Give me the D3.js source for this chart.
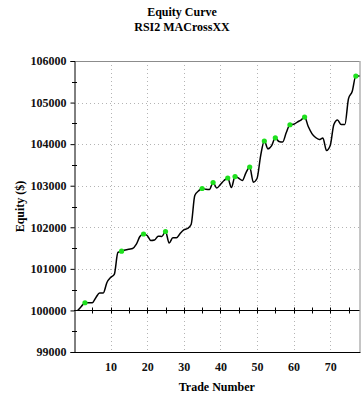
<!DOCTYPE html>
<html><head><meta charset="utf-8">
<script src="https://cdn.jsdelivr.net/npm/d3@7"></script>
<style>body{margin:0;background:#fff}svg{display:block}</style>
</head><body>
<svg id="c" width="364" height="400"></svg>
<script>
const titleLines = ["Equity Curve", "RSI2 MACrossXX"];
const xLabel = "Trade Number";
const yLabel = "Equity ($)";
const trades = d3.range(1, 79);
const equity = [
 100000,100096,100185,100185,100185,100312,100420,100420,100673,100793,
 100865,101394,101425,101454,101474,101490,101587,101779,101839,101803,
 101683,101695,101786,101779,101899,101623,101748,101748,101851,101935,
 101971,102067,102764,102873,102933,102916,102909,103077,102945,103029,
 103125,103185,102957,103221,103180,103125,103317,103450,103084,103173,
 103726,104075,103887,103966,104151,104063,104050,104279,104466,104476,
 104531,104579,104651,104423,104255,104159,104111,104147,103846,103966,
 104471,104579,104471,104471,105096,105264,105637,105637];
const markerTrades = [3,13,19,25,35,38,42,44,48,52,55,59,63,77];
const xTicks = [10,20,30,40,50,60,70];
const xMinorTicks = d3.range(5, 78, 5);
const yTicks = [99000,100000,101000,102000,103000,104000,105000,106000];
const yMinorTicks = d3.range(99500, 106000, 1000);

const data = trades.map((t,i)=>({t, v: equity[i]}));
const svg = d3.select("#c");
const L=74, R=359.5, T=61, B=352;
const x = d3.scaleLinear().domain([0,78]).range([L,R]);
const y = d3.scaleLinear().domain([99000,106000]).range([B,T]);
const font = "'Liberation Serif','Times New Roman',serif";

// titles
svg.selectAll("text.title").data(titleLines).join("text")
  .attr("x",182).attr("y",(d,i)=>16+i*15).attr("text-anchor","middle")
  .attr("font-family",font).attr("font-weight","bold").attr("font-size",12)
  .text(d=>d);

// grid
const grid = svg.append("g").attr("stroke","#b4b4b4").attr("stroke-dasharray","1,3").attr("stroke-width",1);
grid.selectAll("line.h").data(yTicks.filter(d=>d>99000 && d<106000 && d!==100000)).join("line")
  .attr("x1",L).attr("x2",R).attr("y1",d=>Math.round(y(d))+0.5).attr("y2",d=>Math.round(y(d))+0.5);
grid.selectAll("line.v").data(xTicks).join("line")
  .attr("y1",T).attr("y2",B).attr("x1",d=>Math.round(x(d))+0.5).attr("x2",d=>Math.round(x(d))+0.5);

// frame
svg.append("line").attr("x1",L).attr("x2",R).attr("y1",T+0.5).attr("y2",T+0.5).attr("stroke","#8c8c8c");
svg.append("line").attr("x1",R+0.5).attr("x2",R+0.5).attr("y1",T).attr("y2",B).attr("stroke","#8c8c8c");

// y axis
const yAxis = d3.axisLeft(y).tickValues(yTicks).tickSize(4).tickFormat(d3.format("d"));
const gy = svg.append("g").attr("transform",`translate(${L+0.5},0)`).call(yAxis);
gy.select(".domain").attr("stroke","#000");
gy.selectAll("text").attr("font-family",font).attr("font-weight","bold").attr("font-size",12).attr("fill","#111").attr("dx","-1");
svg.append("g").selectAll("line").data(yMinorTicks).join("line")
  .attr("x1",L-2).attr("x2",L+3).attr("y1",d=>Math.round(y(d))+0.5).attr("y2",d=>Math.round(y(d))+0.5).attr("stroke","#000");

// bottom border
svg.append("line").attr("x1",L).attr("x2",R+1).attr("y1",B+0.5).attr("y2",B+0.5).attr("stroke","#000");

// x axis at 100000
const y0 = Math.round(y(100000))+0.5;
svg.append("line").attr("x1",L).attr("x2",R).attr("y1",y0).attr("y2",y0).attr("stroke","#000");
svg.append("g").selectAll("line").data(xMinorTicks).join("line")
  .attr("x1",d=>Math.round(x(d))+0.5).attr("x2",d=>Math.round(x(d))+0.5)
  .attr("y1",y0-3).attr("y2",y0+3).attr("stroke","#000");

// x tick labels at bottom
const xAxis = d3.axisBottom(x).tickValues(xTicks).tickSize(0).tickPadding(10);
const gx = svg.append("g").attr("transform",`translate(0,${B})`).call(xAxis);
gx.select(".domain").remove();
gx.selectAll("text").attr("font-family",font).attr("font-weight","bold").attr("font-size",12).attr("fill","#111");

// axis labels
svg.append("text").attr("x",(L+R)/2).attr("y",391).attr("text-anchor","middle")
  .attr("font-family",font).attr("font-weight","bold").attr("font-size",12).text(xLabel);
svg.append("text").attr("transform",`translate(24,${(T+B)/2}) rotate(-90)`).attr("text-anchor","middle")
  .attr("font-family",font).attr("font-weight","bold").attr("font-size",12).text(yLabel);

// line
const line = d3.line().x(d=>x(d.t)).y(d=>y(d.v)).curve(d3.curveMonotoneX);
svg.append("path").datum(data).attr("d",line).attr("fill","none").attr("stroke","#000").attr("stroke-width",1.5);

// markers
svg.append("g").selectAll("circle").data(data.filter(d=>markerTrades.includes(d.t))).join("circle")
  .attr("cx",d=>x(d.t)).attr("cy",d=>y(d.v)).attr("r",2.6).attr("fill","#1ee01e");
</script>
</body></html>
